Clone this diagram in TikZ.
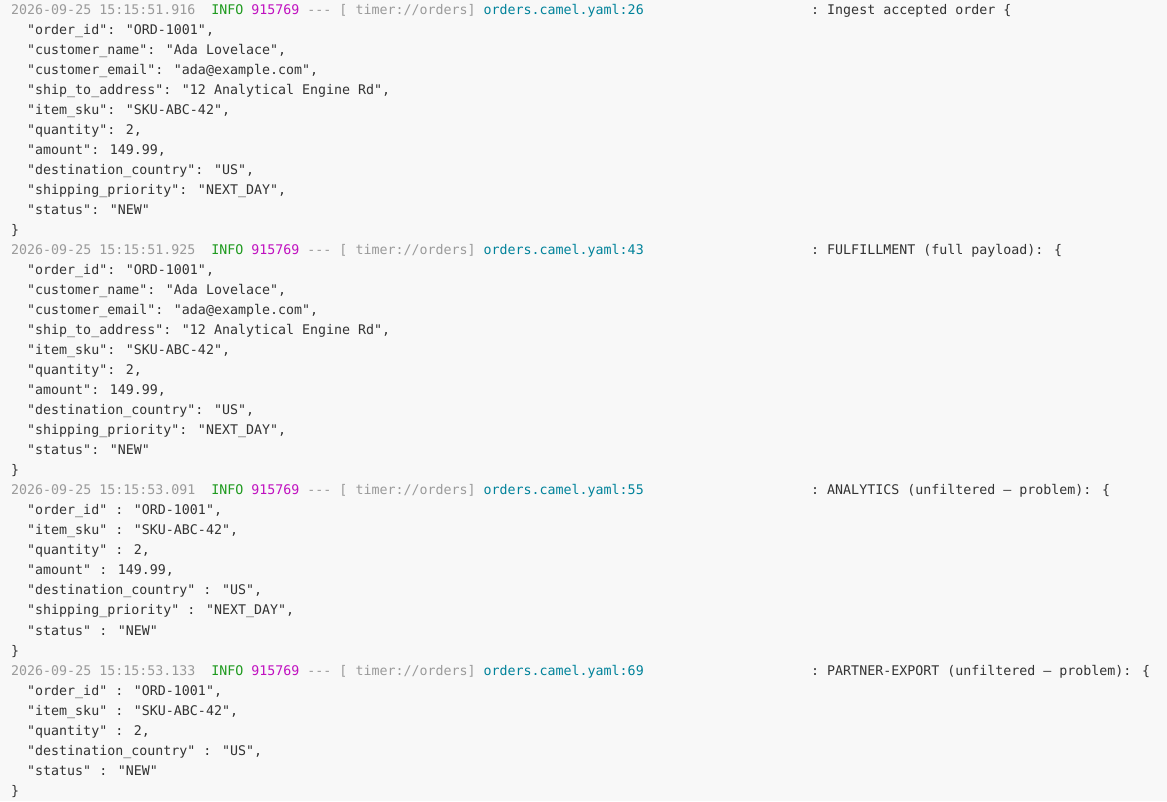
\documentclass[tikz,border=0pt]{standalone}
\usepackage{fontspec}
\newfontfamily\logfont{DejaVu Sans Mono}
\usetikzlibrary{positioning}
\definecolor{bg}{HTML}{F8F8F8}
\definecolor{txt}{HTML}{333333}
\definecolor{dim}{HTML}{9A9A9A}
\definecolor{lvl}{HTML}{1E9A1E}
\definecolor{pid}{HTML}{C010C0}
\definecolor{src}{HTML}{00829A}
\tikzset{
  logline/.style={anchor=base west, inner sep=0pt, text=txt, font=\logfont\fontsize{13.3}{16}\selectfont},
}
% one header line: row, time, file, message
\newcommand\hdrline[4]{%
  \node (h#1) at (11pt,{786pt-20pt*#1}) [logline] {\textcolor{dim}{#2}\ \ \textcolor{lvl}{INFO}\ \textcolor{pid}{915769}\ \textcolor{dim}{---\ [\ timer://orders]}\ \textcolor{src}{#3}};
  \node (m#1) at (811pt,{786pt-20pt*#1}) [logline] {:\ #4};
}
% one body line: row, text
\newcommand\bodyline[2]{%
  \node (b#1) at (27pt,{786pt-20pt*#1}) [logline] {#2};
}
\newcommand\closeline[1]{%
  \node (c#1) at (11pt,{786pt-20pt*#1}) [logline] {\}};
}
\begin{document}
\begin{tikzpicture}
	\useasboundingbox (0,0) rectangle (1167pt,801pt);
	\fill[bg] (0,0) rectangle (1167pt,801pt);

	% Ingest
	\hdrline{0}{2026-09-25 15:15:51.916}{orders.camel.yaml:26}{Ingest accepted order \{}
	\bodyline{1}{"order\_id": "ORD-1001",}
	\bodyline{2}{"customer\_name": "Ada Lovelace",}
	\bodyline{3}{"customer\_email": "ada@example.com",}
	\bodyline{4}{"ship\_to\_address": "12 Analytical Engine Rd",}
	\bodyline{5}{"item\_sku": "SKU-ABC-42",}
	\bodyline{6}{"quantity": 2,}
	\bodyline{7}{"amount": 149.99,}
	\bodyline{8}{"destination\_country": "US",}
	\bodyline{9}{"shipping\_priority": "NEXT\_DAY",}
	\bodyline{10}{"status": "NEW"}
	\closeline{11}

	% Fulfillment
	\hdrline{12}{2026-09-25 15:15:51.925}{orders.camel.yaml:43}{FULFILLMENT (full payload): \{}
	\bodyline{13}{"order\_id": "ORD-1001",}
	\bodyline{14}{"customer\_name": "Ada Lovelace",}
	\bodyline{15}{"customer\_email": "ada@example.com",}
	\bodyline{16}{"ship\_to\_address": "12 Analytical Engine Rd",}
	\bodyline{17}{"item\_sku": "SKU-ABC-42",}
	\bodyline{18}{"quantity": 2,}
	\bodyline{19}{"amount": 149.99,}
	\bodyline{20}{"destination\_country": "US",}
	\bodyline{21}{"shipping\_priority": "NEXT\_DAY",}
	\bodyline{22}{"status": "NEW"}
	\closeline{23}

	% Analytics
	\hdrline{24}{2026-09-25 15:15:53.091}{orders.camel.yaml:55}{ANALYTICS (unfiltered — problem): \{}
	\bodyline{25}{"order\_id" : "ORD-1001",}
	\bodyline{26}{"item\_sku" : "SKU-ABC-42",}
	\bodyline{27}{"quantity" : 2,}
	\bodyline{28}{"amount" : 149.99,}
	\bodyline{29}{"destination\_country" : "US",}
	\bodyline{30}{"shipping\_priority" : "NEXT\_DAY",}
	\bodyline{31}{"status" : "NEW"}
	\closeline{32}

	% Partner export
	\hdrline{33}{2026-09-25 15:15:53.133}{orders.camel.yaml:69}{PARTNER-EXPORT (unfiltered — problem): \{}
	\bodyline{34}{"order\_id" : "ORD-1001",}
	\bodyline{35}{"item\_sku" : "SKU-ABC-42",}
	\bodyline{36}{"quantity" : 2,}
	\bodyline{37}{"destination\_country" : "US",}
	\bodyline{38}{"status" : "NEW"}
	\closeline{39}
\end{tikzpicture}
\end{document}
